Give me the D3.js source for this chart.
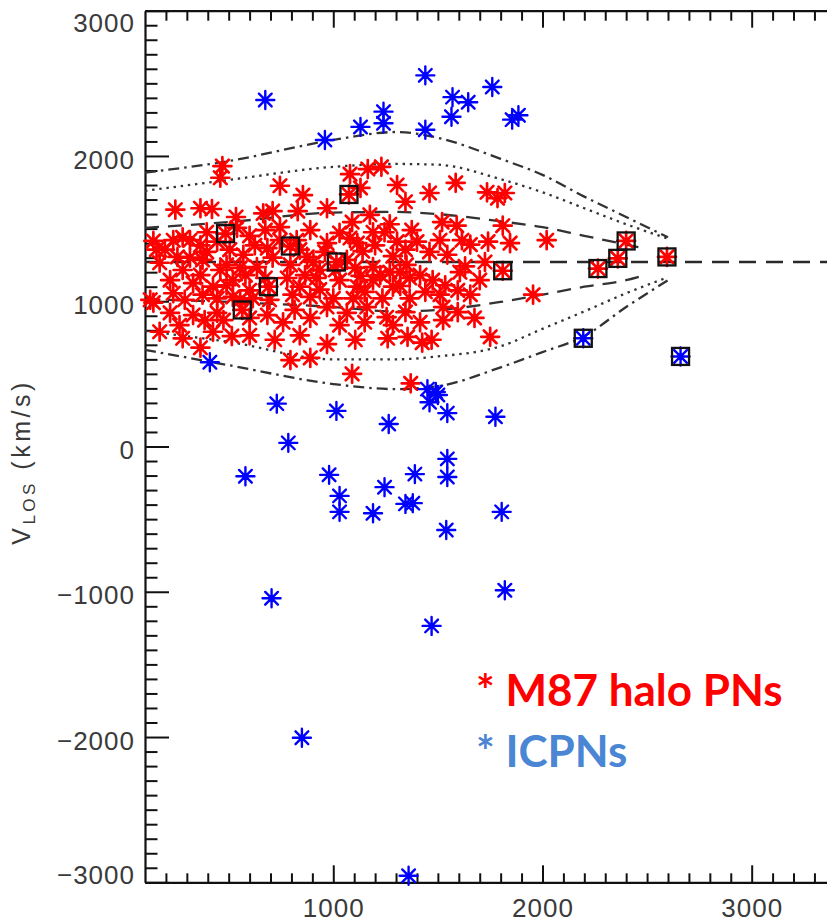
<!DOCTYPE html>
<html>
<head>
<meta charset="utf-8">
<script src="https://cdn.jsdelivr.net/npm/d3@7"></script>
<style>
  body { margin: 0; background: #fff; }
  svg { display: block; }
</style>
</head>
<body>
<svg id="chart" width="827" height="924"></svg>
<script>
// M87 halo planetary nebulae: projected radius R and line-of-sight velocity (km/s)
const haloR = [
  470, 460, 745, 855, 1080, 1165, 1230, 1130, 1305, 1345, 1460, 1585, 1735, 1785, 1820,
  365, 420, 535, 665, 710, 830, 970, 1175, 1270, 1375, 1520, 1590, 1810, 245,
  140, 235, 315, 395, 445, 540, 600, 675, 745, 825, 890, 970, 1030, 1090, 1115, 1190, 1305, 1400, 1615, 1740, 1845, 2020, 280,
  195, 365, 505, 625, 745, 840, 960, 1080, 1200, 1245, 1345, 1510, 1655, 1725,
  170, 255, 315, 280, 375, 395, 460, 570, 635, 685, 710, 795, 875, 905, 935, 1065, 1140, 1190, 1285, 1350, 1460, 1545, 1630, 1320, 1225, 1130, 1365, 1605, 490, 555, 155,
  220, 365, 580, 675, 865, 1010, 1105, 1270, 1415, 1535, 1655,
  125, 235, 330, 425, 520, 600, 780, 840, 920, 1030, 1115, 1190, 1285, 1475, 1700, 1440, 1595, 1235, 1955, 490, 375, 445, 520, 615, 805, 890, 1000, 1095, 1320,
  290, 555, 695, 935, 1150, 1365, 1510,
  140, 220, 330, 445, 475, 685, 760, 890, 970, 1065, 1160, 1255, 1345, 1525, 1595, 1285, 1525,
  265, 385, 600, 815, 1030, 1150, 1415, 1675,
  170, 280, 425, 515, 365, 795, 890, 970, 1260, 1355, 1425, 1470, 1750, 1090, 1370,
  720, 840, 1105, 600
];
const haloV = [
  1930, 1850, 1795, 1730, 1875, 1910, 1925, 1780, 1800, 1685, 1745, 1815, 1750, 1710, 1745,
  1640, 1635, 1580, 1605, 1620, 1620, 1640, 1595, 1530, 1490, 1545, 1520, 1520, 1630,
  1415, 1420, 1420, 1475, 1410, 1505, 1450, 1490, 1510, 1420, 1490, 1400, 1470, 1545, 1400, 1475, 1410, 1410, 1420, 1410, 1400, 1420, 1440,
  1355, 1385, 1355, 1385, 1420, 1355, 1340, 1435, 1385, 1475, 1355, 1420, 1390, 1270,
  1265, 1305, 1300, 1215, 1285, 1340, 1215, 1320, 1235, 1365, 1300, 1250, 1305, 1270, 1215, 1285, 1345, 1235, 1310, 1250, 1340, 1320, 1240, 1200, 1180, 1175, 1160, 1200, 1250, 1230, 1355,
  1145, 1180, 1180, 1160, 1180, 1215, 1230, 1200, 1180, 1110, 1045,
  1010, 1055, 1125, 1100, 1145, 1075, 1160, 1100, 1160, 1145, 1100, 1145, 1100, 1145, 1145, 1065, 1075, 1020, 1045, 1110, 1045, 1020, 1030, 1020, 1045, 1030, 1020, 1020, 1105,
  1010, 1010, 1010, 1080, 1065, 1020, 1045,
  990, 920, 905, 920, 870, 905, 855, 885, 960, 920, 960, 890, 925, 960, 925, 835, 870,
  835, 870, 885, 940, 835, 855, 855, 885,
  790, 745, 790, 760, 680, 595, 610, 705, 745, 755, 715, 735, 755, 500, 435,
  735, 765, 735, 765
];

// intracluster PNs
const icR = [
  675, 960, 1130, 1240, 1240, 1440, 1440, 1570, 1645, 1565, 1760, 1855, 1885,
  410, 730, 1015, 785, 580, 980, 1030, 1030, 1265, 1245, 1190, 1345, 1380, 1390,
  1545, 1545, 1545, 1540, 1775, 1805, 1820, 1470, 705, 850, 1360,
  1450, 1490, 1460, 1500
];
const icV = [
  2385, 2110, 2200, 2305, 2225, 2555, 2180, 2405, 2370, 2270, 2475, 2250, 2280,
  580, 295, 245, 25, -205, -195, -340, -450, 155, -280, -460, -395, -390, -190,
  -85, -210, 230, -575, 205, -450, -990, -1235, -1045, -2005, -2955,
  395, 375, 305, 355
];

// objects marked with boxes
const boxHaloR = [485, 565, 690, 795, 1015, 1075, 1810, 2265, 2360, 2400, 2595];
const boxHaloV = [1465, 940, 1100, 1380, 1270, 1735, 1210, 1225, 1295, 1415, 1305];
const boxIcR = [2195, 2660];
const boxIcV = [745, 620];

// systemic velocity and the velocity envelopes around it
const systemicV = 1270;
const dashR      = [100, 500, 1000, 1300, 1500, 1800, 2000, 2200, 2400, 2500];
const dashUpper  = [1505, 1545, 1610, 1615, 1600, 1550, 1510, 1450, 1390, 1360];
const dashLower  = [1015, 995, 960, 930, 940, 995, 1045, 1100, 1145, 1185];
const envR       = [100, 500, 1000, 1300, 1500, 1800, 2000, 2200, 2400, 2600];
const dotUpper   = [1760, 1835, 1925, 1945, 1940, 1840, 1750, 1640, 1530, 1430];
const dotLower   = [795, 720, 600, 600, 620, 690, 810, 930, 1055, 1165];
const dashDotUpper = [1885, 1965, 2110, 2165, 2125, 1980, 1870, 1720, 1580, 1440];
const dashDotLower = [665, 560, 430, 395, 415, 545, 650, 760, 960, 1145];

// axis ticks
const xMajor = [1000, 2000, 3000];
const yMajor = [-3000, -2000, -1000, 0, 1000, 2000, 3000];

const svg = d3.select("#chart");

const x = d3.scaleLinear().domain([100, 4000]).range([145, 145 + 3900 * 0.2092]);
const y = d3.scaleLinear().domain([-3000, 3000]).range([882.3, 10.7]);

const xMinor = d3.range(200, 3700, 100).filter(v => v % 1000 !== 0);
const yMinor = d3.range(-2900, 3000, 100).filter(v => v % 1000 !== 0);

const labelFont = "'Liberation Sans', Arial, sans-serif";

// ---------- axes ----------
function styleAxis(g) {
  g.selectAll("path.domain").attr("stroke", "#111").attr("stroke-width", 2.2);
  g.selectAll(".tick line").attr("stroke", "#111").attr("stroke-width", 2);
}

// bottom
const gBottom = svg.append("g").attr("transform", `translate(0,${y(-3000)})`)
  .call(d3.axisBottom(x).tickValues(xMajor).tickSizeInner(-17).tickSizeOuter(0).tickPadding(16)
    .tickFormat(d3.format("d")));
gBottom.call(styleAxis);
svg.append("g").attr("transform", `translate(0,${y(-3000)})`)
  .call(d3.axisBottom(x).tickValues(xMinor).tickSizeInner(-9).tickSizeOuter(0).tickFormat(""))
  .call(styleAxis).select("path.domain").remove();

// top
svg.append("g").attr("transform", `translate(0,${y(3000)})`)
  .call(d3.axisTop(x).tickValues(xMajor).tickSizeInner(-17).tickSizeOuter(0).tickFormat(""))
  .call(styleAxis);
svg.append("g").attr("transform", `translate(0,${y(3000)})`)
  .call(d3.axisTop(x).tickValues(xMinor).tickSizeInner(-10).tickSizeOuter(0).tickFormat(""))
  .call(styleAxis).select("path.domain").remove();

// left
const gLeft = svg.append("g").attr("transform", `translate(${x(100)},0)`)
  .call(d3.axisLeft(y).tickValues(yMajor).tickSizeInner(-24).tickSizeOuter(0).tickPadding(10)
    .tickFormat(d3.format("d")));
gLeft.call(styleAxis);
svg.append("g").attr("transform", `translate(${x(100)},0)`)
  .call(d3.axisLeft(y).tickValues(yMinor).tickSizeInner(-12.5).tickSizeOuter(0).tickFormat(""))
  .call(styleAxis).select("path.domain").remove();

// tick label styling
[gBottom, gLeft].forEach(g => g.selectAll(".tick text")
  .attr("font-family", labelFont)
  .attr("font-size", 26)
  .attr("letter-spacing", "1px")
  .attr("fill", "#3a3a3a"));
gBottom.selectAll(".tick text").attr("y", 898.5 - y(-3000)).attr("dy", "0.71em");
// end labels on the vertical axis stay inside the frame
gLeft.selectAll(".tick text")
  .attr("y", d => Math.max(22, Math.min(874, y(d) + 3)) - y(d))
  .attr("dy", "0.35em");

// ---------- velocity envelopes ----------
const line = d3.line().x(d => x(d[0])).y(d => y(d[1])).curve(d3.curveMonotoneX);
const zipR = (rs, vs) => rs.map((r, i) => [r, vs[i]]);

const curves = [
  { pts: zipR(dashR, dashUpper), dash: "14,9" },
  { pts: zipR(dashR, dashLower), dash: "14,9" },
  { pts: zipR(envR, dotUpper), dash: "2.4,4.8" },
  { pts: zipR(envR, dotLower), dash: "2.4,4.8" },
  { pts: zipR(envR, dashDotUpper), dash: "11,5,2.5,5" },
  { pts: zipR(envR, dashDotLower), dash: "11,5,2.5,5" }
];
svg.append("g").selectAll("path").data(curves).join("path")
  .attr("d", d => line(d.pts))
  .attr("fill", "none")
  .attr("stroke", "#333")
  .attr("stroke-width", 2.3)
  .attr("stroke-dasharray", d => d.dash);

// systemic velocity
svg.append("line")
  .attr("x1", x(100)).attr("x2", x(4000))
  .attr("y1", y(systemicV)).attr("y2", y(systemicV))
  .attr("stroke", "#2a2a2a").attr("stroke-width", 2.6)
  .attr("stroke-dasharray", "17,10");

// ---------- asterisk markers ----------
const r = 9, a = r * 0.7071;
const starPath = `M${-r},0H${r}M0,${-r}V${r}M${-a},${-a}L${a},${a}M${-a},${a}L${a},${-a}`;

function stars(rs, vs, color, width) {
  svg.append("g").selectAll("path").data(rs.map((d, i) => [d, vs[i]])).join("path")
    .attr("transform", d => `translate(${x(d[0])},${y(d[1])})`)
    .attr("d", starPath)
    .attr("fill", "none")
    .attr("stroke", color)
    .attr("stroke-width", width)
    .attr("stroke-linecap", "round");
}
stars(haloR.concat(boxHaloR), haloV.concat(boxHaloV), "#ff0000", 2.7);
stars(icR.concat(boxIcR), icV.concat(boxIcV), "#0000ff", 2.4);

// boxes
const side = 17;
svg.append("g").selectAll("rect")
  .data(zipR(boxHaloR, boxHaloV).concat(zipR(boxIcR, boxIcV))).join("rect")
  .attr("x", d => x(d[0]) - side / 2)
  .attr("y", d => y(d[1]) - side / 2)
  .attr("width", side).attr("height", side)
  .attr("fill", "none")
  .attr("stroke", "#111")
  .attr("stroke-width", 2.3);

// ---------- y-axis title ----------
const title = svg.append("text")
  .attr("transform", "translate(30,462) rotate(-90)")
  .attr("text-anchor", "middle")
  .attr("font-family", labelFont)
  .attr("font-size", 25)
  .attr("letter-spacing", "3.5px")
  .attr("fill", "#3a3a3a");
title.append("tspan").text("V");
title.append("tspan").attr("font-size", 17).attr("dy", 5).text("LOS");
title.append("tspan").attr("dy", -5).text(" (km/s)");

// ---------- legend ----------
const legend = [
  { label: "* M87 halo PNs", color: "#ff0000", y: 706 },
  { label: "* ICPNs", color: "#4a86d4", y: 767 }
];
svg.append("g").selectAll("text").data(legend).join("text")
  .attr("x", 476)
  .attr("y", d => d.y)
  .attr("font-family", "Lato, 'Open Sans', sans-serif")
  .attr("font-weight", 700)
  .attr("font-size", 44)
  .attr("fill", d => d.color)
  .text(d => d.label);
</script>
</body>
</html>
